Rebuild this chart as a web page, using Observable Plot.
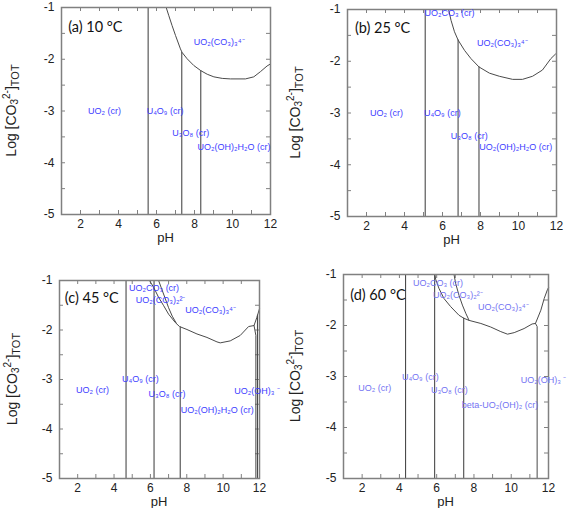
<!DOCTYPE html>
<html>
<head>
<meta charset="utf-8">
<script src="https://cdn.jsdelivr.net/npm/d3@7"></script>
<script src="https://cdn.jsdelivr.net/npm/@observablehq/plot@0.6"></script>
<style>
  html, body { margin: 0; padding: 0; background: #fff; }
  #wrap { position: relative; width: 567px; height: 508px; background: #fff; overflow: hidden; }
  #wrap svg { position: absolute; }
</style>
</head>
<body>
<div id="wrap"></div>
<script>
// ---------- shared scale / tick data ----------
const X_DOMAIN = [1, 12];
const Y_DOMAIN = [-5, -1];
const X_MAJOR = [2, 4, 6, 8, 10, 12];
const X_MINOR = [2, 3, 4, 5, 6, 7, 8, 9, 10, 11];
const Y_MAJOR = [-1, -2, -3, -4, -5];
const Y_MINOR = [-1.5, -2, -2.5, -3, -3.5, -4, -4.5];

// ---------- panel titles ----------
const TITLE_TEXT = ["(a) 10 °C", "(b) 25 °C", "(c) 45 °C", "(d) 60 °C"];
const TITLE_PH = [1.35, 1.39, 1.29, 1.36];
const TITLE_LOG = [-1.38, -1.36, -1.37, -1.40];

// ---------- (a) 10 °C ----------
const curve10_pH  = [6.51, 6.65, 6.82, 7.0, 7.26, 7.35, 7.61, 7.96, 8.33, 8.67, 9.02, 9.46, 9.89, 10.68, 11.12, 11.47, 11.82, 12.0];
const curve10_log = [-1.0, -1.16, -1.35, -1.54, -1.80, -1.87, -1.99, -2.12, -2.22, -2.29, -2.34, -2.37, -2.38, -2.38, -2.34, -2.24, -2.13, -2.09];
const vert10_pH  = [5.56, 7.33, 8.33];
const vert10_top = [-1.0, -1.87, -2.22];
const label10_name = ["UO₂ (cr)", "U₄O₉ (cr)", "U₃O₈ (cr)", "UO₂(OH)₂H₂O (cr)", "UO₂(CO₃)₃⁴⁻"];
const label10_pH   = [3.26, 6.45, 7.80, 10.08, 9.30];
const label10_log  = [-3.0, -3.0, -3.43, -3.69, -1.67];

// ---------- (b) 25 °C ----------
const curve25_pH  = [6.32, 6.45, 6.63, 6.82, 7.16, 7.50, 7.92, 8.47, 8.99, 9.69, 10.21, 10.74, 11.26, 11.70, 11.95];
const curve25_log = [-1.0, -1.21, -1.43, -1.59, -1.79, -1.95, -2.11, -2.23, -2.29, -2.35, -2.35, -2.29, -2.17, -1.95, -1.86];
const vert25_pH  = [5.09, 6.82, 7.92];
const vert25_top = [-1.0, -1.59, -2.11];
const label25_name = ["UO₂CO₃ (cr)", "UO₂(CO₃)₃⁴⁻", "UO₂ (cr)", "U₄O₉ (cr)", "U₃O₈ (cr)", "UO₂(OH)₂H₂O (cr)"];
const label25_pH   = [6.37, 9.15, 3.05, 5.99, 7.41, 9.85];
const label25_log  = [-1.07, -1.65, -3.01, -3.01, -3.45, -3.66];

// ---------- (c) 45 °C ----------
const curve45_pH  = [5.95, 6.18, 6.45, 6.73, 7.0, 7.37, 7.6, 8.01, 8.56, 9.11, 9.66, 9.84, 10.39, 10.94, 11.40, 11.70, 11.85, 12.0];
const curve45_log = [-1.0, -1.14, -1.34, -1.51, -1.68, -1.85, -1.93, -1.99, -2.08, -2.15, -2.24, -2.26, -2.22, -2.11, -1.93, -1.91, -1.75, -1.57];
const inner45_pH  = [6.45, 6.6, 6.8, 7.0, 7.2, 7.42];
const inner45_log = [-1.0, -1.15, -1.35, -1.55, -1.72, -1.86];
const branch45_pH  = [11.70, 11.80, 11.80];
const branch45_log = [-1.91, -2.11, -5.0];
const vert45_pH  = [4.66, 6.20, 7.64, 11.89];
const vert45_top = [-1.0, -1.0, -1.94, -1.70];
const label45_name = ["UO₂CO₃ (cr)", "UO₂(CO₃)₂²⁻", "UO₂(CO₃)₃⁴⁻", "UO₂ (cr)", "U₄O₉ (cr)", "U₃O₈ (cr)", "UO₂(OH)₂H₂O (cr)", "UO₂(OH)₃ ⁻"];
const label45_pH   = [6.20, 6.56, 9.31, 2.81, 5.45, 6.91, 9.68, 11.87];
const label45_log  = [-1.16, -1.39, -1.60, -3.22, -3.0, -3.30, -3.62, -3.23];

// ---------- (d) 60 °C ----------
const curve60_pH  = [5.90, 5.95, 6.12, 6.39, 6.75, 7.20, 7.47, 7.74, 8.37, 8.90, 9.44, 9.80, 10.16, 10.69, 11.12, 11.30, 11.59, 11.77, 11.95, 12.0];
const curve60_log = [-1.0, -1.10, -1.27, -1.47, -1.63, -1.80, -1.86, -1.90, -1.96, -2.03, -2.12, -2.17, -2.14, -2.06, -1.97, -1.96, -1.70, -1.47, -1.29, -1.26];
const inner60_pH  = [6.93, 7.02, 7.20, 7.38, 7.56, 7.74];
const inner60_log = [-1.0, -1.18, -1.41, -1.60, -1.76, -1.90];
const branch60_pH  = [11.30, 11.39, 11.39];
const branch60_log = [-1.96, -2.02, -5.0];
const vert60_pH  = [4.33, 5.89, 7.45];
const vert60_top = [-1.0, -1.0, -1.86];
const label60_name = ["UO₂CO₃ (cr)", "UO₂(CO₃)₂²⁻", "UO₂(CO₃)₃⁴⁻", "UO₂ (cr)", "U₄O₉ (cr)", "U₃O₈ (cr)", "beta-UO₂(OH)₂ (cr)", "UO₂(OH)₃ ⁻"];
const label60_pH   = [6.07, 7.14, 9.58, 2.68, 5.12, 6.68, 9.40, 11.74];
const label60_log  = [-1.16, -1.40, -1.63, -3.22, -3.01, -3.27, -3.56, -3.08];

// ---------- helpers ----------
const pts = (xs, ys) => xs.map((x, i) => ({x, y: ys[i]}));
const rules = (xs, tops) => xs.map((x, i) => ({x, top: tops[i]}));
const labs = (names, xs, ys) => names.map((name, i) => ({name, x: xs[i], y: ys[i]}));

const FRAME = "#808080";
const LINE = "#4a4a4a";
const SUB = "₀₁₂₃₄₅₆₇₈₉", SUP = "⁰¹²³⁴⁵⁶⁷⁸⁹⁻";
const SUP_PLAIN = "0123456789-";

// turn unicode sub/superscripts into shifted tspans
function formatChem(textEl, base) {
  const str = textEl.textContent;
  const runs = [];
  for (const ch of str) {
    let kind = "n", c = ch;
    if (SUB.includes(ch)) { kind = "sub"; c = String(SUB.indexOf(ch)); }
    else if (SUP.includes(ch)) { kind = "sup"; c = SUP_PLAIN[SUP.indexOf(ch)]; }
    if (runs.length && runs[runs.length - 1].kind === kind) runs[runs.length - 1].t += c;
    else runs.push({kind, t: c});
  }
  const sel = d3.select(textEl);
  sel.text(null);
  let off = 0;
  const small = base * 0.75;
  for (const r of runs) {
    const target = r.kind === "sub" ? base * 0.3 : r.kind === "sup" ? -base * 0.42 : 0;
    sel.append("tspan")
      .attr("dy", (target - off).toFixed(2))
      .attr("font-size", r.kind === "n" ? base : small)
      .text(r.t);
    off = target;
  }
}

function buildPanel(cfg, idx) {
  const {left, top, width, height, mL, mR, mT, mB} = cfg;
  const fw = width - mL - mR, fh = height - mT - mB;
  const tLen = 4;
  const LBL = 9;
  const title = [{name: TITLE_TEXT[idx], x: TITLE_PH[idx], y: TITLE_LOG[idx]}];
  const svg = Plot.plot({
    width, height,
    marginLeft: mL, marginRight: mR, marginTop: mT, marginBottom: mB,
    x: {domain: X_DOMAIN},
    y: {domain: Y_DOMAIN},
    style: {fontFamily: "'Liberation Sans', Arial, sans-serif", fontSize: "12px", color: "#222", background: "transparent"},
    marks: [
      Plot.tickX(X_MINOR, {x: d => d, insetTop: fh - tLen, stroke: FRAME}),
      Plot.tickX(X_MINOR, {x: d => d, insetBottom: fh - tLen, stroke: FRAME}),
      Plot.tickY(Y_MINOR, {y: d => d, insetRight: fw - tLen, stroke: FRAME}),
      Plot.tickY(Y_MINOR, {y: d => d, insetLeft: fw - tLen, stroke: FRAME}),
      Plot.axisX(X_MAJOR, {tickSize: 0, tickPadding: 5, tickFormat: d => String(d), label: null, fontSize: 12}),
      Plot.axisY(Y_MAJOR, {tickSize: 0, tickPadding: 7, tickFormat: d => String(d), label: null, fontSize: 12}),
      Plot.ruleX(cfg.verts, {x: "x", y1: Y_DOMAIN[0], y2: "top", stroke: LINE, strokeWidth: 1.1}),
      ...cfg.curves.map(c => Plot.line(c, {x: "x", y: "y", stroke: LINE, strokeWidth: 1})),
      Plot.frame({stroke: FRAME, strokeWidth: 1.5}),
      Plot.text(cfg.labels, {x: "x", y: "y", text: "name", fill: cfg.labelColor, fontSize: LBL,
        ariaLabel: "species", fontFamily: "'Liberation Sans', Arial, sans-serif"}),
      Plot.text(title, {x: "x", y: "y", text: "name", textAnchor: "start", fontSize: 14.5, fontFamily: "Lato, 'Open Sans', sans-serif", fill: "#111"})
    ]
  });
  svg.style.left = left + "px";
  svg.style.top = top + "px";
  const s = d3.select(svg);
  s.selectAll('g[aria-label="species"] text').each(function() { formatChem(this, LBL); });
  // x title
  s.append("text")
    .attr("x", mL + fw / 2).attr("y", height - mB + 23)
    .attr("text-anchor", "middle").attr("dominant-baseline", "central")
    .attr("font-size", 13).attr("fill", "#222")
    .text("pH");
  // y title with sub/superscripts
  const yt = s.append("text")
    .attr("transform", `translate(${cfg.yTitleX},${mT + fh / 2}) rotate(-90)`)
    .attr("text-anchor", "middle").attr("dominant-baseline", "central")
    .attr("font-size", 14).attr("fill", "#222")
    .attr("font-family", "'Liberation Sans', Arial, sans-serif");
  yt.append("tspan").text("Log [CO");
  yt.append("tspan").attr("font-size", 10).attr("dy", 3).text("3");
  yt.append("tspan").attr("font-size", 10).attr("dy", -8).text("2-");
  yt.append("tspan").attr("dy", 5).text("]");
  yt.append("tspan").attr("font-size", 11).attr("dy", 4).text("TOT");
  return svg;
}

const panels = [
  {left: 0, top: 0, width: 283, height: 250, mL: 61, mR: 13, mT: 7, mB: 36, yTitleX: 11,
   curves: [pts(curve10_pH, curve10_log)], verts: rules(vert10_pH, vert10_top),
   labels: labs(label10_name, label10_pH, label10_log), labelColor: "#3d3dff"},
  {left: 283, top: 0, width: 284, height: 250, mL: 64, mR: 11, mT: 9, mB: 34, yTitleX: 12,
   curves: [pts(curve25_pH, curve25_log)], verts: rules(vert25_pH, vert25_top),
   labels: labs(label25_name, label25_pH, label25_log), labelColor: "#3d3dff"},
  {left: 0, top: 250, width: 283, height: 258, mL: 59, mR: 24, mT: 30, mB: 30, yTitleX: 12,
   curves: [pts(curve45_pH, curve45_log), pts(inner45_pH, inner45_log), pts(branch45_pH, branch45_log)],
   verts: rules(vert45_pH, vert45_top),
   labels: labs(label45_name, label45_pH, label45_log), labelColor: "#3d3dff"},
  {left: 283, top: 250, width: 284, height: 258, mL: 60, mR: 19, mT: 24, mB: 30, yTitleX: 12,
   curves: [pts(curve60_pH, curve60_log), pts(inner60_pH, inner60_log), pts(branch60_pH, branch60_log)],
   verts: rules(vert60_pH, vert60_top),
   labels: labs(label60_name, label60_pH, label60_log), labelColor: "#7373f2"}
];

const wrap = document.getElementById("wrap");
panels.forEach((cfg, i) => wrap.appendChild(buildPanel(cfg, i)));
</script>
</body>
</html>
